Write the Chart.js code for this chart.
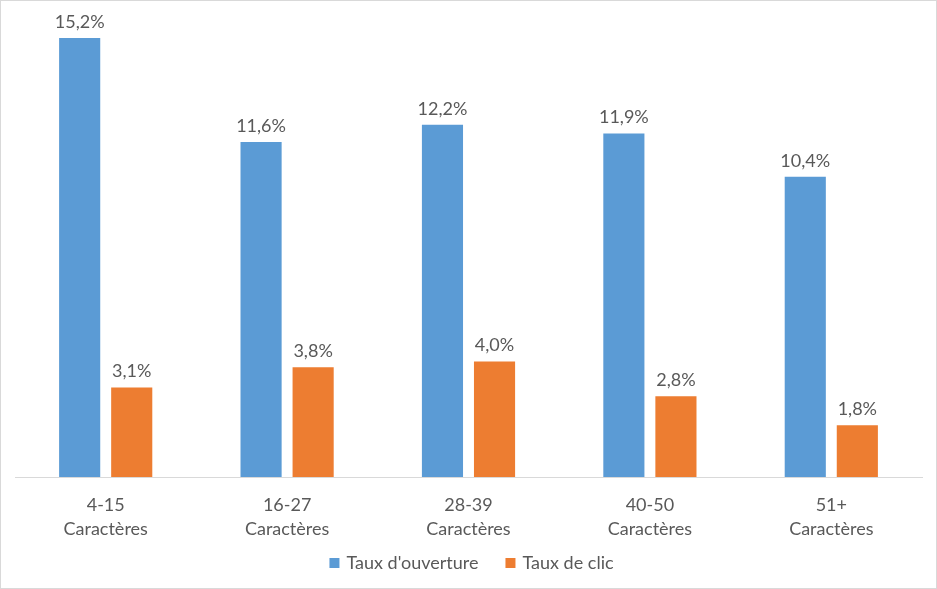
<!DOCTYPE html>
<html>
<head>
<meta charset="utf-8">
<script src="https://cdn.jsdelivr.net/npm/chart.js@4.4.1/dist/chart.umd.min.js"></script>
<style>
  html, body { margin: 0; padding: 0; background: #fff; }
  #wrap { width: 937px; height: 589px; box-sizing: border-box; border: 1px solid #d9d9d9; position: relative; }
  #chart { display: block; }
</style>
</head>
<body>
<div id="wrap"><canvas id="chart" width="935" height="587"></canvas></div>
<script>
const categories = [['4-15', 'Caractères'], ['16-27', 'Caractères'], ['28-39', 'Caractères'], ['40-50', 'Caractères'], ['51+', 'Caractères']];
const tauxOuverture = [15.2, 11.6, 12.2, 11.9, 10.4];
const tauxClic = [3.1, 3.8, 4.0, 2.8, 1.8];

const textColor = '#595959';
const fontFamily = "Lato, 'Liberation Sans', sans-serif";

// valeurs au-dessus des barres, format français
const valueLabels = {
    id: 'valueLabels',
    afterDatasetsDraw(chart) {
        const ctx = chart.ctx;
        ctx.save();
        ctx.fillStyle = textColor;
        ctx.font = '18px ' + fontFamily;
        ctx.textAlign = 'center';
        ctx.textBaseline = 'bottom';
        chart.data.datasets.forEach((ds, i) => {
            chart.getDatasetMeta(i).data.forEach((bar, j) => {
                ctx.fillText(ds.data[j].toFixed(1).replace('.', ',') + '%', bar.x, bar.y - 7);
            });
        });
        ctx.restore();
    }
};

// légende en bas, espacée comme dans Excel
const bottomLegend = {
    id: 'bottomLegend',
    afterDraw(chart) {
        const ctx = chart.ctx;
        const box = 10, boxGap = 7, itemGap = 27, y = 562;
        ctx.save();
        ctx.font = '18px ' + fontFamily;
        ctx.textBaseline = 'middle';
        const items = chart.data.datasets.map(ds => ({ text: ds.label, color: ds.backgroundColor, w: ctx.measureText(ds.label).width }));
        let total = items.reduce((s, it) => s + box + boxGap + it.w, 0) + itemGap * (items.length - 1);
        let x = (chart.width - total) / 2 + 3;
        items.forEach(it => {
            ctx.fillStyle = it.color;
            ctx.fillRect(x, y - box / 2, box, box);
            ctx.fillStyle = textColor;
            ctx.fillText(it.text, x + box + boxGap, y);
            x += box + boxGap + it.w + itemGap;
        });
        ctx.restore();
    }
};

Chart.defaults.font.family = fontFamily;
Chart.defaults.color = textColor;

new Chart(document.getElementById('chart'), {
    type: 'bar',
    data: {
        labels: categories,
        datasets: [
            { label: "Taux d'ouverture", data: tauxOuverture, backgroundColor: '#5B9BD5', barPercentage: 0.79, categoryPercentage: 0.574 },
            { label: 'Taux de clic', data: tauxClic, backgroundColor: '#ED7D31', barPercentage: 0.79, categoryPercentage: 0.574 }
        ]
    },
    options: {
        responsive: false,
        animation: false,
        layout: { padding: { top: 14, left: 14, right: 14, bottom: 31 } },
        plugins: {
            legend: { display: false },
            tooltip: { enabled: false }
        },
        scales: {
            x: {
                grid: { display: false, drawTicks: false },
                border: { display: true, color: '#d9d9d9', width: 1 },
                ticks: { font: { size: 18, lineHeight: 1.33 }, color: textColor, padding: 16 }
            },
            y: { display: false, min: 0, max: 16 }
        }
    },
    plugins: [valueLabels, bottomLegend]
});
</script>
</body>
</html>
